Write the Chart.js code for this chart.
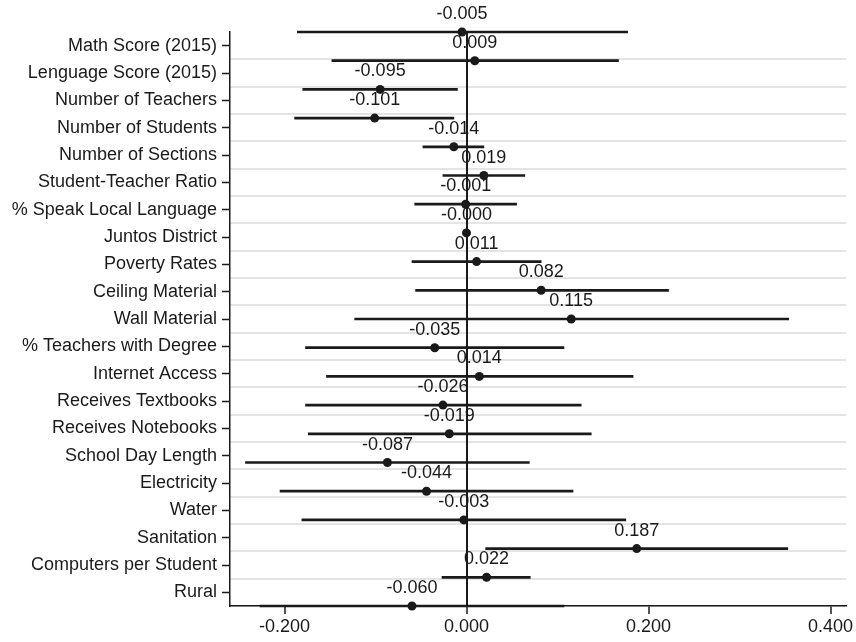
<!DOCTYPE html>
<html>
<head>
<meta charset="utf-8">
<script src="https://cdn.jsdelivr.net/npm/chart.js@4"></script>
<style>
  html, body { margin: 0; padding: 0; background: #fff; }
  #wrap { width: 856px; height: 642px; }
</style>
</head>
<body>
<div id="wrap"><canvas id="coefChart"></canvas></div>
<script>
const categories = [
  "Math Score (2015)", "Lenguage Score (2015)", "Number of Teachers", "Number of Students",
  "Number of Sections", "Student-Teacher Ratio", "% Speak Local Language", "Juntos District",
  "Poverty Rates", "Ceiling Material", "Wall Material", "% Teachers with Degree",
  "Internet Access", "Receives Textbooks", "Receives Notebooks", "School Day Length",
  "Electricity", "Water", "Sanitation", "Computers per Student", "Rural"
];
const coefs = [-0.005, 0.009, -0.095, -0.101, -0.014, 0.019, -0.001, -0.0001, 0.011, 0.082, 0.115,
  -0.035, 0.014, -0.026, -0.019, -0.087, -0.044, -0.003, 0.187, 0.022, -0.060];
const ciLow = [-0.186, -0.148, -0.180, -0.189, -0.048, -0.026, -0.057, -0.002, -0.060, -0.056, -0.123,
  -0.177, -0.154, -0.177, -0.174, -0.243, -0.205, -0.181, 0.021, -0.027, -0.227];
const ciHigh = [0.177, 0.167, -0.010, -0.014, 0.019, 0.064, 0.055, 0.002, 0.082, 0.222, 0.354,
  0.107, 0.183, 0.126, 0.137, 0.069, 0.117, 0.175, 0.353, 0.070, 0.107];
const xTicks = [-0.2, 0, 0.2, 0.4];

const FONT = "'Liberation Sans', Arial, Helvetica, sans-serif";
const INK = "#1a1a1a";

// value labels drawn above each point
const valueLabels = {
  id: "valueLabels",
  afterDatasetsDraw(chart) {
    const meta = chart.getDatasetMeta(1);
    const ctx = chart.ctx;
    ctx.save();
    ctx.font = "18px " + FONT;
    ctx.fillStyle = INK;
    ctx.textAlign = "center";
    ctx.textBaseline = "alphabetic";
    meta.data.forEach((pt, i) => {
      ctx.fillText(coefs[i].toFixed(3), pt.x, pt.y - 13);
    });
    ctx.restore();
  },
};

new Chart(document.getElementById("coefChart"), {
  type: "bar",
  data: {
    labels: categories,
    datasets: [
      {
        type: "bar",
        indexAxis: "y",
        data: categories.map((c, i) => [ciLow[i], ciHigh[i]]),
        xAxisID: "x",
        yAxisID: "y2",
        backgroundColor: INK,
        borderWidth: 0,
        barThickness: 2,
        clip: false,
      },
      {
        type: "scatter",
        data: categories.map((c, i) => ({ x: coefs[i], y: c })),
        xAxisID: "x",
        yAxisID: "y2",
        backgroundColor: INK,
        borderWidth: 0,
        pointRadius: 4.5,
        clip: false,
      },
    ],
  },
  options: {
    indexAxis: "y",
    responsive: true,
    maintainAspectRatio: false,
    animation: false,
    layout: { padding: { top: 32, right: 10, left: 0, bottom: 0 } },
    plugins: {
      legend: { display: false },
      tooltip: { enabled: false },
      title: { display: false },
    },
    scales: {
      x: {
        type: "linear",
        min: -0.26,
        max: 0.417,
        afterBuildTicks: (scale) => {
          scale.ticks = xTicks.map((v) => ({ value: v }));
        },
        afterFit: (scale) => {
          scale.height = 36;
        },
        ticks: {
          color: INK,
          font: { family: FONT, size: 18 },
          padding: 2,
          maxRotation: 0,
          callback: (v) => Number(v).toFixed(3),
        },
        grid: {
          color: (ctx) => (ctx.tick && ctx.tick.value === 0 ? INK : "rgba(0,0,0,0)"),
          lineWidth: 2,
          tickColor: INK,
          tickLength: 8,
          tickWidth: 1.5,
        },
        border: { display: true, color: INK, width: 1.5 },
      },
      y: {
        type: "category",
        position: "left",
        offset: true,
        afterFit: (scale) => {
          scale.width = 230;
        },
        ticks: {
          color: INK,
          font: { family: FONT, size: 18 },
          padding: 5,
          autoSkip: false,
        },
        grid: {
          offset: false,
          drawOnChartArea: false,
          tickColor: INK,
          tickLength: 8,
          tickWidth: 1.5,
        },
        border: { display: true, color: INK, width: 1.5 },
      },
      yg: {
        type: "category",
        position: "right",
        offset: true,
        afterFit: (scale) => {
          scale.width = 0;
        },
        ticks: { display: false },
        grid: {
          z: -2,
          offset: true,
          drawTicks: false,
          color: (ctx) => (ctx.index === 0 ? "rgba(0,0,0,0)" : "#e4e4e4"),
          lineWidth: 2,
        },
        border: { display: false },
      },
      y2: {
        type: "category",
        display: false,
        offset: false,
        grid: { offset: false },
      },
    },
  },
  plugins: [valueLabels],
});
</script>
</body>
</html>
